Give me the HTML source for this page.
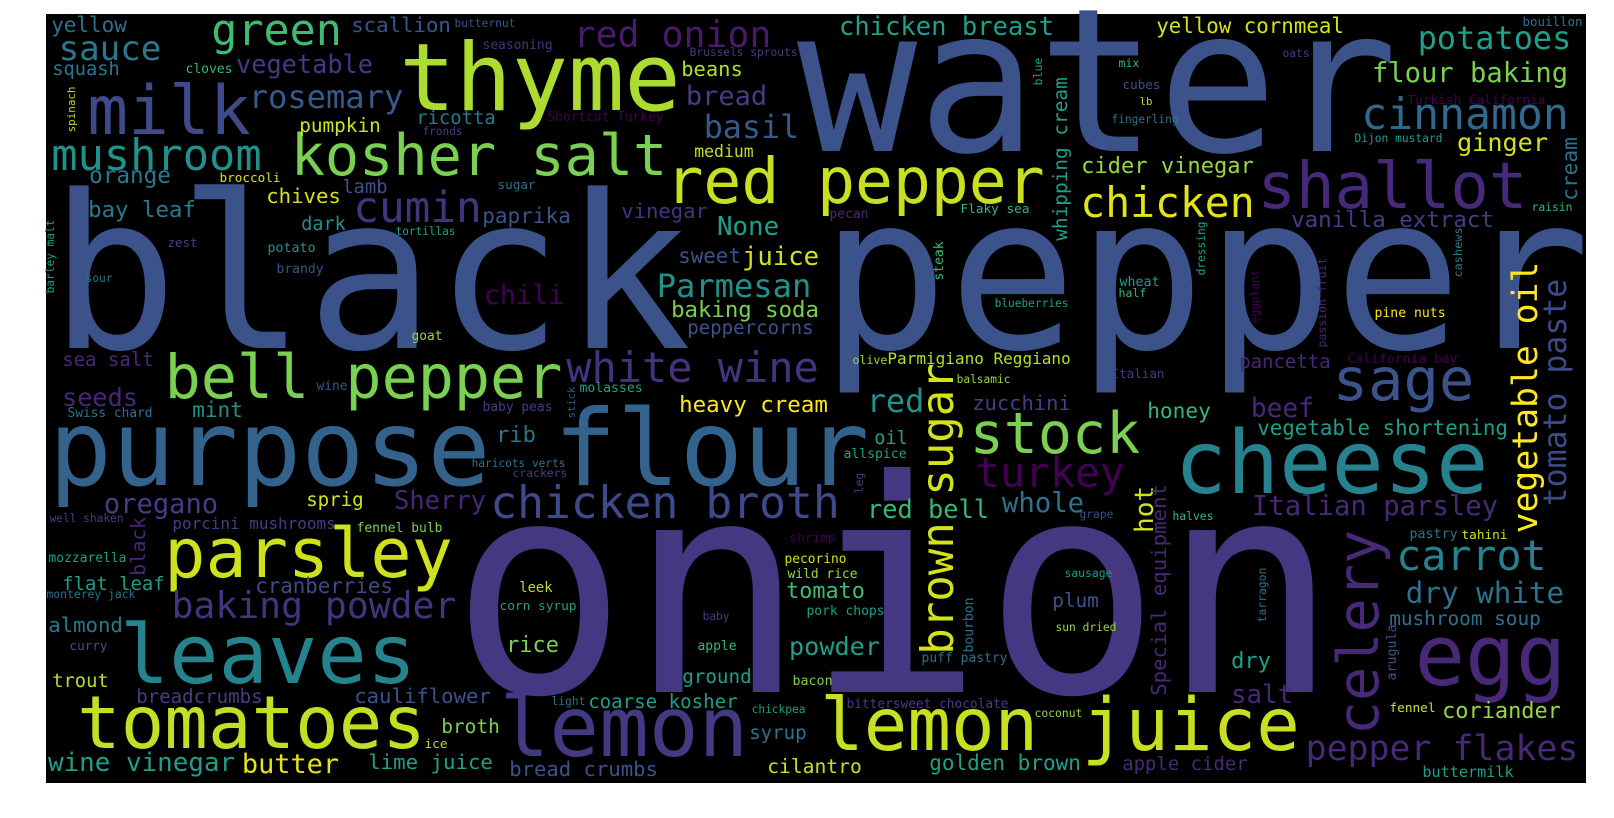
<!DOCTYPE html>
<html><head><meta charset="utf-8">
<style>
html,body{margin:0;padding:0;background:#fff;}
svg{display:block;}
text{font-family:"DejaVu Sans Mono","Liberation Mono",monospace;}
</style></head>
<body>
<svg id="cloud" width="1614" height="818" viewBox="0 0 1614 818" xmlns="http://www.w3.org/2000/svg">
<rect x="46" y="14" width="1540" height="769" fill="#000"/>
<g id="words"></g>
</svg>
<script>
// horizontal words: text, left, right, baseline, color
const hWords = [
["water",805,1390,151,"#3b528b"],
["black pepper",58,1582,348,"#3b528b"],
["onion",462,1327,692,"#453781"],
["purpose flour",53,865,485,"#33638d"],
["thyme",403,677,110,"#addc30"],
["kosher salt",293,665,175,"#7ad151"],
["milk",90,248,134,"#3e4a89"],
["red pepper",668,1042,203,"#c8e020"],
["shallot",1260,1525,208,"#482878"],
["cinnamon",1363,1567,129,"#31688e"],
["cheese",1178,1485,493,"#26828e"],
["leaves",123,413,683,"#25838e"],
["tomatoes",80,423,748,"#c2df23"],
["lemon juice",823,1297,750,"#c8e020"],
["lemon",503,745,756,"#443983"],
["parsley",167,450,577,"#cde11d"],
["bell pepper",167,560,398,"#7ad151"],
["egg",1418,1563,685,"#482878"],
["sage",1335,1472,400,"#3b528b"],
["stock",972,1138,453,"#7ad151"],
["turkey",977,1123,487,"#440154"],
["chicken broth",492,838,518,"#3e4a89"],
["mushroom",53,260,170,"#21918c"],
["green",213,340,45,"#3dbc74"],
["cumin",355,480,222,"#46337f"],
["sauce",60,160,60,"#2a788e"],
["potatoes",1419,1570,49,"#1fa088"],
["chicken",1082,1253,217,"#e2e418"],
["rosemary",250,402,108,"#375a8c"],
["yellow",52,126,32,"#2c728e"],
["scallion",352,450,32,"#39568c"],
["butternut",455,515,27,"#3b528b"],
["seasoning",483,552,49,"#46337f"],
["squash",53,119,75,"#2a788e"],
["cloves",186,232,73,"#35b779"],
["vegetable",237,372,73,"#443983"],
["ricotta",417,495,124,"#2a788e"],
["pumpkin",300,380,132,"#d2e21b"],
["fronds",423,462,135,"#433e85"],
["orange",90,170,183,"#2a788e"],
["broccoli",220,280,182,"#d8e219"],
["chives",267,340,203,"#d5e21a"],
["lamb",343,387,193,"#3b528b"],
["sugar",498,535,189,"#2c728e"],
["bay leaf",89,195,217,"#2a788e"],
["paprika",483,570,223,"#3b528b"],
["dark",302,345,230,"#21918c"],
["tortillas",396,455,235,"#1fa088"],
["zest",168,197,247,"#433e85"],
["potato",268,315,252,"#21918c"],
["brandy",277,323,273,"#3b528b"],
["sour",86,112,282,"#2a788e"],
["chili",485,563,304,"#440154"],
["goat",412,442,340,"#95d840"],
["sea salt",63,153,366,"#482878"],
["wine",317,347,390,"#3b528b"],
["red onion",575,770,47,"#481a6c"],
["Brussels sprouts",690,797,56,"#433e85"],
["chicken breast",840,1053,35,"#1fa088"],
["beans",682,742,76,"#b5de2b"],
["bread",687,766,105,"#433e85"],
["Shortcut Turkey",548,663,121,"#440154"],
["basil",705,798,138,"#375a8c"],
["medium",695,753,157,"#c2df23"],
["vinegar",622,707,218,"#46337f"],
["pecan",830,868,218,"#482878"],
["Flaky sea",961,1029,213,"#35b779"],
["None",718,778,235,"#1fa088"],
["sweet",679,740,263,"#3b528b"],
["juice",743,818,265,"#d5e21a"],
["Parmesan",658,810,297,"#21918c"],
["blueberries",995,1068,307,"#1fa088"],
["baking soda",672,818,317,"#7ad151"],
["peppercorns",688,813,334,"#3b528b"],
["white wine",568,817,382,"#46337f"],
["olive",853,887,364,"#95d840"],
["Parmigiano Reggiano",888,1070,364,"#b5de2b"],
["balsamic",957,1010,383,"#95d840"],
["molasses",580,642,392,"#1fa088"],
["yellow cornmeal",1157,1343,33,"#d2e21b"],
["bouillon",1523,1582,26,"#2c728e"],
["oats",1283,1309,57,"#433e85"],
["mix",1119,1139,67,"#35b779"],
["flour baking",1373,1567,82,"#7ad151"],
["cubes",1123,1160,89,"#3b528b"],
["lb",1140,1152,105,"#b5de2b"],
["Turkish California",1408,1545,104,"#440154"],
["fingerling",1112,1178,123,"#2c728e"],
["Dijon mustard",1355,1442,142,"#1f9e89"],
["ginger",1458,1547,151,"#d2e21b"],
["cider vinegar",1082,1253,173,"#95d840"],
["vanilla extract",1292,1493,227,"#433e85"],
["raisin",1532,1572,211,"#35b779"],
["wheat",1120,1159,286,"#1f9e89"],
["half",1119,1146,297,"#35b779"],
["pine nuts",1375,1445,317,"#fde725"],
["pancetta",1240,1330,368,"#482878"],
["California bay",1348,1457,363,"#440154"],
["Italian",1112,1164,378,"#433e85"],
["seeds",63,137,406,"#482878"],
["Swiss chard",68,152,417,"#2c728e"],
["mint",193,242,417,"#21918c"],
["baby peas",483,552,411,"#433e85"],
["rib",497,535,442,"#2c728e"],
["haricots verts",472,565,467,"#2c728e"],
["crackers",513,567,477,"#433e85"],
["oregano",105,217,513,"#433e85"],
["sprig",307,363,506,"#d2e21b"],
["Sherry",395,485,509,"#482878"],
["well shaken",50,123,522,"#433e85"],
["porcini mushrooms",173,335,529,"#433e85"],
["fennel bulb",357,442,532,"#7ad151"],
["mozzarella",49,126,562,"#1f9e89"],
["flat leaf",63,164,590,"#1f9e89"],
["cranberries",256,392,593,"#3e4a89"],
["monterey jack",47,135,598,"#2c728e"],
["leek",520,552,592,"#c2df23"],
["corn syrup",500,576,610,"#1f9e89"],
["baking powder",173,455,618,"#46337f"],
["almond",49,122,632,"#2a788e"],
["rice",507,558,652,"#7ad151"],
["curry",70,107,650,"#3b528b"],
["trout",53,108,687,"#b5de2b"],
["breadcrumbs",137,262,703,"#433e85"],
["cauliflower",355,490,703,"#3b528b"],
["broth",442,499,733,"#7ad151"],
["ice",425,447,748,"#b5de2b"],
["wine vinegar",49,234,771,"#1f9e89"],
["butter",243,338,773,"#e5e419"],
["lime juice",369,492,769,"#1fa088"],
["bread crumbs",510,657,776,"#3b528b"],
["cilantro",768,861,773,"#c8e020"],
["golden brown",930,1080,770,"#1fa088"],
["apple cider",1123,1247,770,"#482878"],
["buttermilk",1423,1513,777,"#1f9e89"],
["heavy cream",680,827,412,"#fde725"],
["red",868,923,412,"#21918c"],
["zucchini",973,1070,410,"#433e85"],
["oil",875,907,444,"#1fa088"],
["allspice",844,906,458,"#1fa088"],
["red bell",868,988,518,"#35b779"],
["whole",1003,1083,512,"#2c728e"],
["shrimp",790,835,542,"#440154"],
["pecorino",785,846,563,"#d2e21b"],
["wild rice",788,857,578,"#95d840"],
["tomato",787,864,598,"#3dbc74"],
["pork chops",807,884,615,"#1f9e89"],
["baby",703,729,620,"#433e85"],
["apple",698,736,650,"#35b779"],
["powder",790,879,655,"#1f9e89"],
["puff pastry",922,1007,662,"#2c728e"],
["ground",683,751,683,"#1f9e89"],
["bacon",793,832,685,"#7ad151"],
["light",552,585,705,"#2c728e"],
["coarse kosher",589,737,708,"#1f9e89"],
["chickpea",752,805,713,"#1f9e89"],
["bittersweet chocolate",847,1008,708,"#433e85"],
["coconut",1035,1082,717,"#95d840"],
["syrup",750,806,739,"#2c728e"],
["honey",1148,1210,418,"#35b779"],
["beef",1252,1313,417,"#482878"],
["vegetable shortening",1258,1507,435,"#1f9e89"],
["grape",1080,1113,518,"#3b528b"],
["halves",1173,1213,520,"#35b779"],
["Italian parsley",1253,1497,515,"#482878"],
["pastry",1410,1457,538,"#2c728e"],
["tahini",1462,1507,539,"#d2e21b"],
["carrot",1398,1545,570,"#26828e"],
["sausage",1065,1112,577,"#1f9e89"],
["dry white",1407,1563,603,"#2c728e"],
["plum",1053,1098,607,"#3b528b"],
["mushroom soup",1390,1540,625,"#2c728e"],
["sun dried",1056,1116,631,"#95d840"],
["dry",1232,1270,668,"#1fa088"],
["salt",1232,1292,703,"#482878"],
["fennel",1390,1435,712,"#d2e21b"],
["coriander",1443,1560,718,"#95d840"],
["pepper flakes",1307,1577,760,"#482878"]
];
// vertical words (read bottom-up): text, baseline x, bottom y, top y, color
const vWords = [
["spinach",75,132,87,"#b5de2b"],
["barley malt",54,293,220,"#1f9e89"],
["steak",943,280,242,"#3dbc74"],
["blue",1042,85,58,"#1f9e89"],
["stick",575,418,387,"#3b528b"],
["whipping cream",1067,240,78,"#1f9e89"],
["dressing",1205,275,222,"#1f9e89"],
["cashews",1462,277,228,"#2a788e"],
["eggplant",1259,323,270,"#440154"],
["passion fruit",1326,347,258,"#482878"],
["vegetable oil",1537,532,263,"#fde725"],
["cream",1577,200,138,"#2c728e"],
["tomato paste",1566,505,280,"#3e4a89"],
["leg",863,493,473,"#433e85"],
["brown sugar",953,653,365,"#d2e21b"],
["bourbon",973,652,598,"#2c728e"],
["hot",1153,532,487,"#d2e21b"],
["Special equipment",1166,695,485,"#482878"],
["celery",1378,733,532,"#482878"],
["tarragon",1266,622,568,"#2c728e"],
["arugula",1396,680,625,"#3b528b"],
["black",145,575,518,"#482878"]
];
const NS = "http://www.w3.org/2000/svg";
const layer = document.getElementById("words");
function slug(s){return s.toLowerCase().replace(/[^a-z0-9]+/g,"-");}
function sizeFor(txt, w){return w/(0.6*txt.length-0.08);}
hWords.forEach(function(d){
  const w = d[2]-d[1];
  const fs = sizeFor(d[0], w);
  const t = document.createElementNS(NS,"text");
  
  
  t.setAttribute("x", (d[1]-0.04*fs).toFixed(1));
  t.setAttribute("y", d[3]);
  t.setAttribute("font-size", fs.toFixed(1));
  t.setAttribute("textLength", (w+0.08*fs).toFixed(1));
  t.setAttribute("lengthAdjust", "spacingAndGlyphs");
  t.setAttribute("fill", d[4]);
  t.textContent = d[0];
  layer.appendChild(t);
});
vWords.forEach(function(d){
  const w = d[2]-d[3];
  const fs = sizeFor(d[0], w);
  const t = document.createElementNS(NS,"text");
  
  
  t.setAttribute("x", d[1]);
  t.setAttribute("y", (d[2]+0.04*fs).toFixed(1));
  t.setAttribute("transform", "rotate(-90 " + d[1] + " " + (d[2]+0.04*fs).toFixed(1) + ")");
  t.setAttribute("x", d[1]);
  t.setAttribute("font-size", fs.toFixed(1));
  t.setAttribute("textLength", (w+0.08*fs).toFixed(1));
  t.setAttribute("lengthAdjust", "spacingAndGlyphs");
  t.setAttribute("fill", d[4]);
  t.textContent = d[0];
  layer.appendChild(t);
});
</script>
</body></html>
